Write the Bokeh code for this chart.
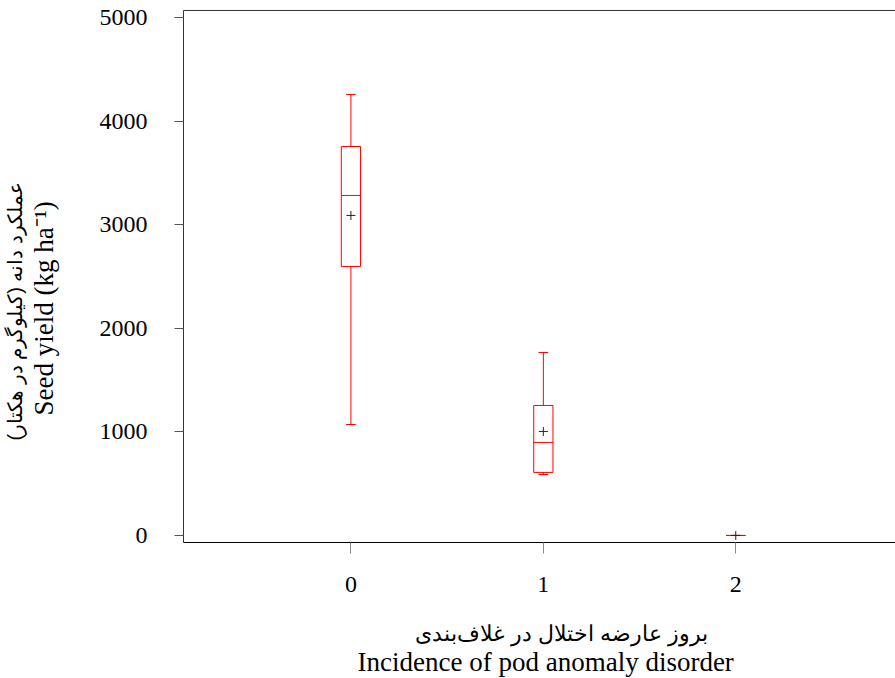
from bokeh.plotting import figure
from bokeh.models import (ColumnDataSource, Range1d, LinearAxis, FixedTicker, Title)
from bokeh.embed import file_html
from bokeh.resources import INLINE

# ---- data ----
groups = [0, 1, 2]
tick_labels = ["0", "1", "2"]
y_ticks = [0, 1000, 2000, 3000, 4000, 5000]
whisker_low = [1072, 589, 0]
q1 = [2599, 609, 0]
median = [3285, 899, 0]
q3 = [3758, 1256, 0]
whisker_high = [4261, 1768, 0]
mean = [3092, 1005, 0]

x_title_fa = "بروز عارضه اختلال در غلاف\u200cبندی"
x_title_en = "Incidence of pod anomaly disorder"
y_title_fa = "عملکرد دانه (کیلوگرم در هکتار)\u200f"
y_title_en = "Seed yield (kg ha\u207b\u00b9)"

box_w = 0.1
cap_w = 0.05

src = ColumnDataSource(dict(
    x=groups, lo=whisker_low, q1=q1, med=median, q3=q3, hi=whisker_high, mean=mean,
    xl=[g - box_w / 2 for g in groups], xr=[g + box_w / 2 for g in groups],
    cl=[g - cap_w / 2 for g in groups], cr=[g + cap_w / 2 for g in groups],
))

serif = "Liberation Serif"

p = figure(width=895, height=678,
           x_range=Range1d(-0.87, 2.83), y_range=Range1d(-68, 5072),
           output_backend="svg", toolbar_location=None,
           min_border_left=181, min_border_right=0,
           min_border_top=10, min_border_bottom=136,
           x_axis_location=None, y_axis_location=None)
p.outline_line_color = None
p.xgrid.visible = False
p.ygrid.visible = False
p.background_fill_color = "white"
p.border_fill_color = "white"

red = "#ff0000"
# whiskers
p.segment(x0="x", y0="q3", x1="x", y1="hi", source=src, line_color=red, line_width=1)
p.segment(x0="x", y0="lo", x1="x", y1="q1", source=src, line_color=red, line_width=1)
# caps
p.segment(x0="cl", y0="hi", x1="cr", y1="hi", source=src, line_color=red, line_width=1)
p.segment(x0="cl", y0="lo", x1="cr", y1="lo", source=src, line_color=red, line_width=1)
# boxes
p.quad(left="xl", right="xr", bottom="q1", top="q3", source=src,
       fill_color="white", line_color=red, line_width=1)
# medians
p.segment(x0="xl", y0="med", x1="xr", y1="med", source=src, line_color=red, line_width=1)
# means
p.scatter(x="x", y="mean", source=src, marker="cross", size=9,
          line_color="#222222", line_width=1)

# ---- x axis ----
xaxis = LinearAxis(ticker=FixedTicker(ticks=groups),
                   major_label_overrides={g: t for g, t in zip(groups, tick_labels)})
xaxis.major_label_text_font = serif
xaxis.major_label_text_font_size = "24px"
xaxis.major_label_text_color = "black"
xaxis.major_label_standoff = 23
xaxis.major_tick_out = 11
xaxis.major_tick_in = 0
xaxis.minor_tick_line_color = None
xaxis.major_tick_line_color = "#888888"
xaxis.axis_line_color = "black"
# zero-width label used only as a spacer below the tick labels
xaxis.axis_label = "\u200b"
xaxis.axis_label_text_font_size = "1px"
xaxis.axis_label_standoff = 22
p.add_layout(xaxis, "below")

p.add_layout(Title(text=x_title_fa, align="left", offset=231, vertical_align="top",
                   text_font_size="22px", text_font_style="normal",
                   text_color="black", standoff=0), "below")

p.add_layout(Title(text=x_title_en, align="left", offset=174,
                   text_font=serif, text_font_size="27px", text_font_style="normal",
                   text_color="black", standoff=-5), "below")

# ---- y axis ----
yaxis = LinearAxis(ticker=FixedTicker(ticks=y_ticks))
yaxis.major_label_text_font = serif
yaxis.major_label_text_font_size = "24px"
yaxis.major_label_text_color = "black"
yaxis.major_label_standoff = 27
yaxis.major_label_orientation = "horizontal"
yaxis.major_tick_out = 9
yaxis.major_tick_in = 0
yaxis.minor_tick_line_color = None
yaxis.major_tick_line_color = "#555555"
yaxis.axis_line_color = "#333333"
yaxis.axis_label = "\u200b"
yaxis.axis_label_text_font_size = "1px"
yaxis.axis_label_standoff = 34
p.add_layout(yaxis, "left")

p.add_layout(Title(text=y_title_en, align="left", offset=127, vertical_align="bottom",
                   text_font=serif, text_font_size="27px", text_font_style="normal",
                   text_color="black", standoff=0), "left")

p.add_layout(Title(text=y_title_fa, align="left", offset=102, vertical_align="bottom",
                   text_font_size="20px", text_font_style="normal",
                   text_color="black", standoff=2), "left")

top = LinearAxis(ticker=FixedTicker(ticks=[]), major_label_text_font_size="0px",
                 major_tick_out=0, major_tick_in=0, minor_tick_out=0, minor_tick_in=0,
                 major_label_standoff=0, axis_line_color="#333333")
p.add_layout(top, "above")

open("out.html", "w").write(file_html(p, INLINE))
